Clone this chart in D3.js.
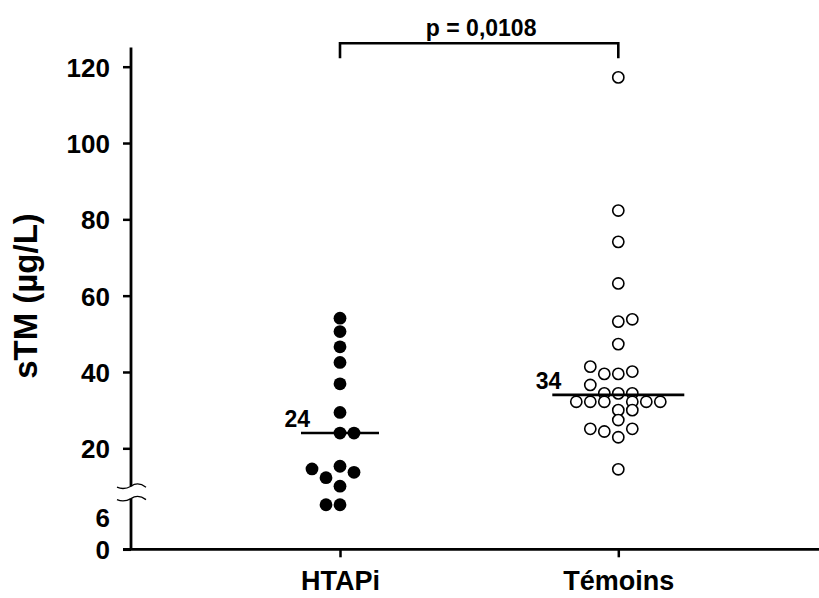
<!DOCTYPE html>
<html><head><meta charset="utf-8">
<script src="https://cdn.jsdelivr.net/npm/d3@7"></script>
<style>
body{margin:0;background:#fff}
svg{display:block}
text{font-family:"Liberation Sans",Arial,Helvetica,sans-serif;font-weight:bold;fill:#000}
</style>
</head><body>
<svg id="chart" width="819" height="598"></svg>
<script>
// ---- data ----
const categories = ["HTAPi", "Témoins"];
const htapiValues = [54.1, 50.6, 46.6, 42.5, 36.9, 29.4, 24, 24, 15.3, 14.6, 13.7, 12.3, 10.6, 8.2, 8.2];
const htapiSlots  = [0, 0, 0, 0, 0, 0, 0, 1, 0, -2, 1, -1, 0, -1, 0];
const temoinsValues = [117.2, 82.3, 74.1, 63.2, 53.8, 53.2, 47.3, 41.4, 40.1, 39.5, 39.5, 36.6,
                       34.4, 34.4, 34.4, 32.2, 32.2, 32.2, 32.2, 32.2, 32.2, 30.0, 30.0, 27.4,
                       25.1, 25.1, 24.4, 22.9, 14.5];
const temoinsSlots  = [0, 0, 0, 0, 1, 0, 0, -2, 1, -1, 0, -2,
                       -1, 0, 1, -3, -2, -1, 1, 2, 3, 0, 1, 0,
                       -2, 1, -1, 0, 0];
const medians = [24, 34];
const medianLabels = ["24", "34"];
const yTickValues = [0, 6, 20, 40, 60, 80, 100, 120];
const pLabel = "p = 0,0108";
const yLabel = "sTM (µg/L)";

// ---- layout ----
const svg = d3.select("#chart");
const axisX = 131, baseY = 549.3;
const yLo = d3.scaleLinear().domain([0, 6]).range([baseY, 516.7]);
const yHi = d3.scaleLinear().domain([20, 120]).range([448.3, 66.7]);
const y = d3.scaleLinear()
  .domain([0, 9, 11, 125])
  .range([yLo(0), yLo(9), yHi(11), yHi(125)]);
const x = d3.scalePoint().domain(categories).range([340, 618.3]).padding(0);
const slotStep = 14;

// y axis ticks & labels
const yAxis = d3.axisLeft(y).tickValues(yTickValues).tickSize(8).tickPadding(13).tickFormat(d3.format("d"));
const gy = svg.append("g").attr("transform", `translate(${axisX},0)`).call(yAxis);
gy.select(".domain").remove();
gy.selectAll(".tick line").attr("stroke", "#000").attr("stroke-width", 2.5)
  .filter(d => d === 6).remove();
gy.selectAll(".tick text").style("font-size", "26px").attr("dy", "0.36em");

// y axis line with break
const breakTop = y(10.6), breakBot = y(9.2);
svg.append("line").attr("x1", axisX).attr("x2", axisX).attr("y1", y(125)).attr("y2", breakTop)
  .attr("stroke", "#000").attr("stroke-width", 2.8);
svg.append("line").attr("x1", axisX).attr("x2", axisX).attr("y1", breakBot).attr("y2", baseY)
  .attr("stroke", "#000").attr("stroke-width", 2.8);
[breakTop, breakBot].forEach(by => {
  svg.append("path")
    .attr("d", `M${axisX-14},${by+1} Q${axisX-7},${by+4} ${axisX},${by} Q${axisX+7},${by-5} ${axisX+15},${by+1}`)
    .attr("fill", "none").attr("stroke", "#000").attr("stroke-width", 1.3);
});

// x axis
svg.append("line").attr("x1", axisX - 8).attr("x2", 819).attr("y1", baseY).attr("y2", baseY)
  .attr("stroke", "#000").attr("stroke-width", 2.8);
const xAxis = d3.axisBottom(x).tickSize(8).tickPadding(10);
const gx = svg.append("g").attr("transform", `translate(0,${baseY})`).call(xAxis);
gx.select(".domain").remove();
gx.selectAll(".tick line").attr("stroke", "#000").attr("stroke-width", 2.5);
gx.selectAll(".tick text").style("font-size", "27px").attr("y", 41).attr("dy", 0);

// y label
svg.append("text").attr("transform", `translate(37,296) rotate(-90)`)
  .attr("text-anchor", "middle").style("font-size", "33px").text(yLabel);

// points
const groups = [
  {cat: categories[0], values: htapiValues, slots: htapiSlots, filled: true},
  {cat: categories[1], values: temoinsValues, slots: temoinsSlots, filled: false}
];
groups.forEach(g => {
  svg.append("g").selectAll("circle").data(g.values).join("circle")
    .attr("cx", (d, i) => x(g.cat) + g.slots[i] * slotStep)
    .attr("cy", d => y(d))
    .attr("r", g.filled ? 6.4 : 5.6)
    .attr("fill", g.filled ? "#000" : "#fff")
    .attr("stroke", "#000").attr("stroke-width", g.filled ? 0 : 1.6);
});

// medians
const medHalf = [39, 66];
categories.forEach((c, i) => {
  const my = y(medians[i]);
  svg.append("line").attr("x1", x(c) - medHalf[i]).attr("x2", x(c) + medHalf[i])
    .attr("y1", my).attr("y2", my).attr("stroke", "#000").attr("stroke-width", 2.6);
  svg.append("text").attr("x", x(c) - medHalf[i] + 9).attr("y", my - 6)
    .attr("text-anchor", "end").style("font-size", "23px").text(medianLabels[i]);
});

// significance bracket
const bY = 43.3, bTick = 15;
svg.append("path")
  .attr("d", `M${x(categories[0])},${bY + bTick} V${bY} H${x(categories[1])} V${bY + bTick}`)
  .attr("fill", "none").attr("stroke", "#000").attr("stroke-width", 2.6);
svg.append("text").attr("x", (x(categories[0]) + x(categories[1])) / 2 + 2).attr("y", 36)
  .attr("text-anchor", "middle").style("font-size", "23px").text(pLabel);
</script>
</body></html>
